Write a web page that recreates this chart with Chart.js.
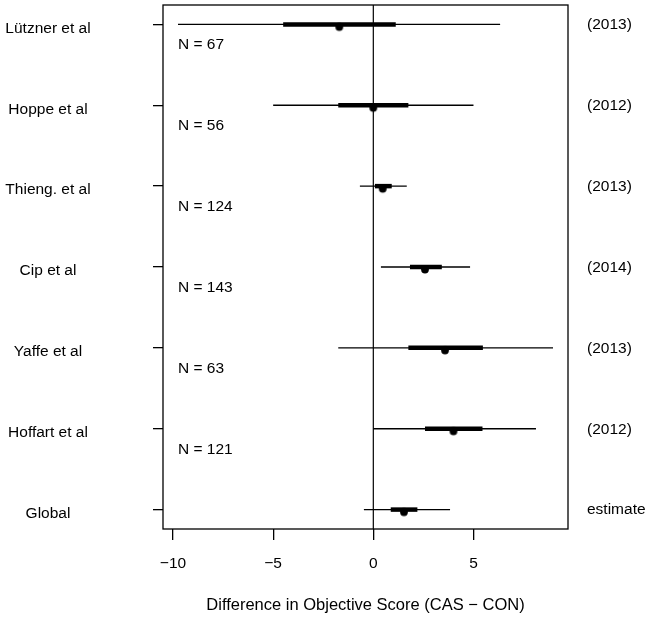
<!DOCTYPE html>
<html>
<head>
<meta charset="utf-8">
<script src="https://cdn.jsdelivr.net/npm/chart.js@4"></script>
<style>
  html, body { margin: 0; padding: 0; background: #fff; }
  #wrap { width: 650px; height: 618px; position: relative; }
</style>
</head>
<body>
<div id="wrap"><canvas id="c"></canvas></div>
<script>
// ---- data ----
const studies   = ['Lützner et al', 'Hoppe et al', 'Thieng. et al', 'Cip et al', 'Yaffe et al', 'Hoffart et al', 'Global'];
const years     = ['(2013)', '(2012)', '(2013)', '(2014)', '(2013)', '(2012)', 'estimate'];
const sampleN   = ['N = 67', 'N = 56', 'N = 124', 'N = 143', 'N = 63', 'N = 121', ''];
const estimate  = [-1.70, 0.00, 0.47, 2.58, 3.58, 4.00, 1.53];
const innerLow  = [-4.50, -1.75, 0.08, 1.83, 1.75, 2.58, 0.87];
const innerHigh = [1.12, 1.75, 0.92, 3.42, 5.47, 5.45, 2.20];
const outerLow  = [-9.75, -5.00, -0.67, 0.38, -1.75, 0.00, -0.47];
const outerHigh = [6.33, 5.00, 1.67, 4.83, 8.97, 8.12, 3.83];
const xTicks    = [-10, -5, 0, 5];
const refValue  = 0;
const xTitle    = 'Difference in Objective Score (CAS \u2212 CON)';

// ---- derived ----
const nRows = studies.length;
const rowY = studies.map((_, i) => nRows - i);
const ext = (lo, hi) => { const d = (hi - lo) * 0.04; return [lo - d, hi + d]; };
const [xMin, xMax] = ext(Math.min(...outerLow), Math.max(...outerHigh));
const [yMin, yMax] = ext(1, nRows);

const FONT = "'Liberation Sans', Arial, sans-serif";
const FSIZE = 15.5;

// dot marker sitting slightly below the line (like the reference)
const dot = document.createElement('canvas');
dot.width = 10; dot.height = 16;
{
  const g = dot.getContext('2d');
  g.fillStyle = '#000';
  g.beginPath(); g.arc(5, 10.5, 3.9, 0, Math.PI * 2); g.fill();
}

const datasets = [];
datasets.push({
  data: [{x: refValue, y: yMin}, {x: refValue, y: yMax}],
  showLine: true, borderColor: '#000', borderWidth: 1.2, pointRadius: 0, order: 4
});
rowY.forEach((y, i) => {
  datasets.push({
    data: [{x: outerLow[i], y}, {x: outerHigh[i], y}],
    showLine: true, borderColor: '#000', borderWidth: 1.3, pointRadius: 0,
    borderCapStyle: 'butt', order: 3
  });
  datasets.push({
    data: [{x: innerLow[i], y}, {x: innerHigh[i], y}],
    showLine: true, borderColor: '#000', borderWidth: 4.5, pointRadius: 0,
    borderCapStyle: 'butt', order: 2
  });
});
datasets.push({
  data: rowY.map((y, i) => ({x: estimate[i], y})),
  pointStyle: dot, pointRadius: 4, showLine: false, order: 1
});

const textPlugin = {
  id: 'forestText',
  afterDraw(chart) {
    const {ctx, chartArea: a, scales: {x, y}} = chart;
    ctx.save();
    // plot box
    ctx.strokeStyle = '#000';
    ctx.lineWidth = 1.3;
    ctx.strokeRect(a.left, a.top, a.right - a.left, a.bottom - a.top);
    ctx.fillStyle = '#000';
    ctx.font = FSIZE + 'px ' + FONT;
    ctx.textBaseline = 'middle';
    rowY.forEach((v, i) => {
      const py = y.getPixelForValue(v);
      ctx.textAlign = 'center';
      ctx.fillText(studies[i], 48, py + 4);
      ctx.textAlign = 'left';
      ctx.fillText(years[i], a.right + 19, py + 0.5);
      if (sampleN[i]) ctx.fillText(sampleN[i], a.left + 15, py + 20.5);
    });
    ctx.restore();
  }
};

new Chart(document.getElementById('c'), {
  type: 'scatter',
  data: { datasets },
  plugins: [textPlugin],
  options: {
    responsive: true,
    maintainAspectRatio: false,
    animation: false,
    layout: { padding: { left: 0, top: 4, right: 82, bottom: 0 } },
    plugins: { legend: { display: false }, tooltip: { enabled: false } },
    scales: {
      x: {
        type: 'linear', min: xMin, max: xMax,
        afterBuildTicks: s => { s.ticks = xTicks.map(v => ({value: v})); },
        afterFit: s => { s.height = 89; },
        border: { display: false },
        grid: { drawOnChartArea: false, drawTicks: true, tickLength: 11, color: '#000', lineWidth: 1.3 },
        ticks: {
          color: '#000', padding: 14, maxRotation: 0, autoSkip: false,
          font: { family: FONT, size: FSIZE },
          callback: v => String(v).replace('-', '\u2212')
        },
        title: {
          display: true, text: xTitle, color: '#000',
          font: { family: FONT, size: 16.5 }, padding: { top: 0, bottom: 3 }
        }
      },
      y: {
        type: 'linear', min: yMin, max: yMax,
        afterBuildTicks: s => { s.ticks = rowY.map(v => ({value: v})); },
        afterFit: s => { s.width = 163; },
        border: { display: false },
        grid: { drawOnChartArea: false, drawTicks: true, tickLength: 10, color: '#000', lineWidth: 1.3 },
        ticks: { display: false, padding: 0 }
      }
    }
  }
});
</script>
</body>
</html>
